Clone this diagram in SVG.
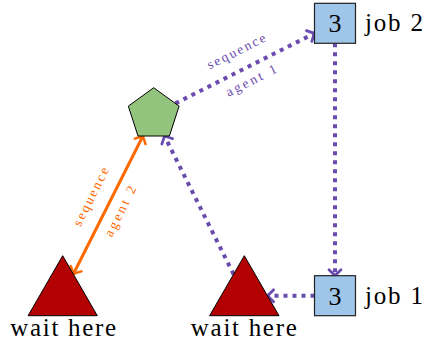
<svg xmlns="http://www.w3.org/2000/svg" width="425" height="342" viewBox="0 0 425 342">
<style>
.big{font-family:"Liberation Serif","Times New Roman",serif;font-size:26px;fill:#000}
.lbl{font-family:"Liberation Serif","Times New Roman",serif;font-size:25px;fill:#000}
.tt{font-family:"Liberation Serif","Times New Roman",serif;font-size:13.5px;text-anchor:middle}
.box{fill:#9fc5e8;stroke:#222;stroke-width:1.2}
.tri{fill:#b30000;stroke:#000;stroke-width:1}
.pent{fill:#93c47d;stroke:#000;stroke-width:1}
.dot{fill:none;stroke:#6a4caf;stroke-width:4;stroke-dasharray:4 5;stroke-linecap:butt}
.orl{fill:none;stroke:#ff6a00;stroke-width:3}
</style>
<defs>
<marker id="ap" viewBox="-8 -8 10 16" markerWidth="10" markerHeight="16" refX="0" refY="0" orient="auto" markerUnits="userSpaceOnUse" overflow="visible">
<path d="M-6,-6 Q-1.6,-1.4 0,0 Q-1.6,1.4 -6,6" fill="none" stroke="#6a4caf" stroke-width="2.8" stroke-linecap="round"/>
</marker>
<marker id="ao" viewBox="-8 -8 10 16" markerWidth="10" markerHeight="16" refX="0" refY="0" orient="auto-start-reverse" markerUnits="userSpaceOnUse" overflow="visible">
<path d="M-6,-6 Q-1.6,-1.4 0,0 Q-1.6,1.4 -6,6" fill="none" stroke="#ff6a00" stroke-width="2.5" stroke-linecap="round"/>
</marker>
</defs>
<g id="connectors">
<path class="dot" d="M175.4,103.4 L314.5,33.3" marker-end="url(#ap)"/>
<path class="dot" d="M335,43.3 L335,275.7" marker-end="url(#ap)"/>
<path class="dot" d="M314.5,295.7 L267.6,295.7" marker-end="url(#ap)"/>
<path class="dot" d="M233.6,274.3 L164.5,136" marker-end="url(#ap)"/>
<path class="orl" d="M73.4,274 L142.9,136" marker-start="url(#ao)" marker-end="url(#ao)"/>
<g transform="translate(245,68.4) rotate(-26.8)" fill="#6a4caf">
<text class="tt" x="0" y="-14.8" textLength="64" lengthAdjust="spacing">sequence</text>
<text class="tt" x="0" y="18" textLength="55" lengthAdjust="spacing">agent 1</text>
</g>
<g transform="translate(108.1,205.2) rotate(-63.3)" fill="#ff6a00">
<text class="tt" x="0" y="-14.8" textLength="64" lengthAdjust="spacing">sequence</text>
<text class="tt" x="0" y="18" textLength="55" lengthAdjust="spacing">agent 2</text>
</g>
</g>
<g id="agent">
<polygon class="pent" points="153.7,87.7 179.1,106.15 169.4,136 138,136 128.3,106.15"/>
</g>
<g id="job2">
<rect class="box" x="314.5" y="3.3" width="41" height="40"/>
<text class="big" x="335" y="32.3" text-anchor="middle">3</text>
<text class="lbl" x="365" y="31" textLength="58" lengthAdjust="spacing">job 2</text>
</g>
<g id="job1">
<rect class="box" x="314.5" y="275.7" width="41" height="40"/>
<text class="big" x="335" y="304.7" text-anchor="middle">3</text>
<text class="lbl" x="365" y="303.5" textLength="58" lengthAdjust="spacing">job 1</text>
</g>
<g id="wait1">
<polygon class="tri" points="62.7,255.7 97.3,315.7 28.1,315.7"/>
<text class="lbl" x="63.2" y="335.5" text-anchor="middle" textLength="106" lengthAdjust="spacing">wait here</text>
</g>
<g id="wait2">
<polygon class="tri" points="244.3,255.7 279,315.7 209.6,315.7"/>
<text class="lbl" x="243.8" y="335.5" text-anchor="middle" textLength="106" lengthAdjust="spacing">wait here</text>
</g>
</svg>
